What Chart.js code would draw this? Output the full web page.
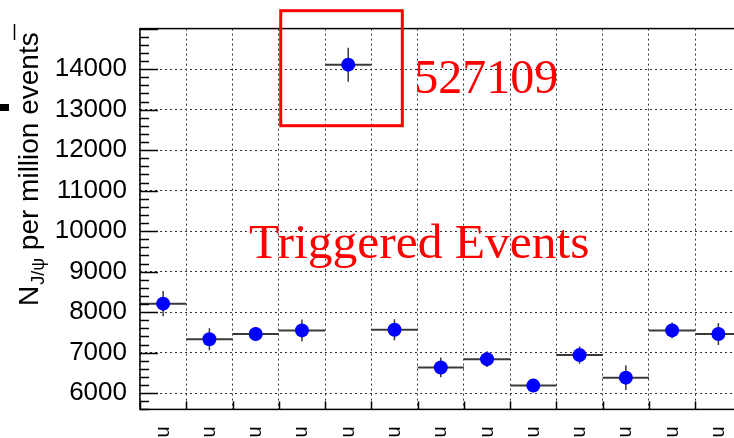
<!DOCTYPE html>
<html>
<head>
<meta charset="utf-8">
<script src="https://cdn.jsdelivr.net/npm/chart.js@4.4.1/dist/chart.umd.min.js"></script>
<style>
  html, body { margin: 0; padding: 0; background: #fff; overflow: hidden; }
  canvas { display: block; }
</style>
</head>
<body>
<canvas id="yieldChart" width="760" height="438" style="width:760px;height:438px"></canvas>
<script>
// J/psi yield per million triggered events, one bin per run
const runs = ['u', 'u', 'u', 'u', 'u', 'u', 'u', 'u', 'u', 'u', 'u', 'u', 'u'];
const yields = [8210, 7330, 7460, 7550, 14110, 7565, 6636, 6840, 6188, 6940, 6384, 7550, 7460];
const yieldErr = [310, 273, 175, 270, 420, 260, 245, 195, 165, 215, 305, 195, 270];
const yTicks = [6000, 7000, 8000, 9000, 10000, 11000, 12000, 13000, 14000];
const highlightBin = 4;
const highlightRun = '527109';

const sans = '"Liberation Sans", Arial, sans-serif';
const serif = '"Liberation Serif", "Times New Roman", serif';

// error bars, frame, ticks and labels drawn the ROOT way
const rootStyle = {
    id: 'rootStyle',
    beforeDatasetsDraw(chart) {
        const { ctx, scales: { x, y } } = chart;
        const half = (x.getPixelForValue(1) - x.getPixelForValue(0)) / 2;
        ctx.save();
        ctx.strokeStyle = '#3a3a3a';
        yields.forEach((v, i) => {
            const xc = x.getPixelForValue(i);
            const yc = y.getPixelForValue(v);
            ctx.lineWidth = 2;
            ctx.beginPath();
            ctx.moveTo(xc - half, yc);
            ctx.lineTo(xc + half, yc);
            ctx.stroke();
            ctx.lineWidth = 1.5;
            ctx.beginPath();
            ctx.moveTo(xc, y.getPixelForValue(v - yieldErr[i]));
            ctx.lineTo(xc, y.getPixelForValue(v + yieldErr[i]));
            ctx.stroke();
        });
        ctx.restore();
    },
    afterDraw(chart) {
        const { ctx, chartArea: a, scales: { x, y } } = chart;
        ctx.save();
        // frame
        ctx.strokeStyle = '#000';
        ctx.lineWidth = 1.5;
        ctx.strokeRect(a.left, a.top, a.right - a.left, a.bottom - a.top);
        // y ticks, minor every 200
        for (let v = 5600; v <= 15000; v += 200) {
            const py = Math.round(y.getPixelForValue(v)) + 0.5;
            const len = v % 1000 === 0 ? 18 : 9;
            ctx.beginPath();
            ctx.moveTo(a.left, py);
            ctx.lineTo(a.left + len, py);
            ctx.stroke();
        }
        // x ticks at bin edges
        const half = (x.getPixelForValue(1) - x.getPixelForValue(0)) / 2;
        for (let i = 0; i <= runs.length; i++) {
            const px = Math.round(x.getPixelForValue(i) - half) + 0.5;
            ctx.beginPath();
            ctx.moveTo(px, a.bottom);
            ctx.lineTo(px, a.bottom - 8);
            ctx.stroke();
        }
        // y title: N_{J/psi} per million events
        ctx.fillStyle = '#000';
        ctx.translate(38, 306);
        ctx.rotate(-Math.PI / 2);
        ctx.textBaseline = 'alphabetic';
        ctx.textAlign = 'left';
        ctx.font = '28px ' + sans;
        ctx.fillText('N', 0, 0);
        let off = ctx.measureText('N').width;
        ctx.font = '18px ' + sans;
        ctx.fillText('J/\u03C8', off + 1, 6);
        off += ctx.measureText('J/\u03C8').width + 1;
        ctx.font = '28px ' + sans;
        ctx.fillText(' per million events', off, 0);
        ctx.restore();

        ctx.save();
        // small marks at the left margin
        ctx.fillStyle = '#000';
        ctx.fillRect(0, 104, 9, 7);
        ctx.strokeStyle = '#000';
        ctx.lineWidth = 1.5;
        ctx.beginPath();
        ctx.moveTo(14.5, 24);
        ctx.lineTo(14.5, 40);
        ctx.stroke();
        // highlight box around the outlier run
        const xc = x.getPixelForValue(highlightBin);
        ctx.strokeStyle = '#ff0000';
        ctx.lineWidth = 3;
        ctx.strokeRect(xc - 67.5, 10.7, 121.6, 115);
        ctx.fillStyle = '#ff0000';
        ctx.font = '48px ' + serif;
        ctx.textBaseline = 'alphabetic';
        ctx.fillText(highlightRun, xc + 66, 93);
        ctx.font = '49.5px ' + serif;
        ctx.fillText('Triggered Events', 249, 258);
        ctx.restore();
    }
};

new Chart(document.getElementById('yieldChart'), {
    type: 'line',
    data: {
        labels: runs,
        datasets: [{
            data: yields,
            showLine: false,
            pointRadius: 7,
            pointHoverRadius: 7,
            pointBackgroundColor: '#0000ff',
            pointBorderWidth: 0
        }]
    },
    options: {
        responsive: false,
        devicePixelRatio: 1,
        animation: false,
        events: [],
        layout: { padding: { top: 26, right: 15.5, left: 0, bottom: 0 } },
        plugins: { legend: { display: false }, tooltip: { enabled: false } },
        scales: {
            x: {
                type: 'category',
                offset: true,
                afterFit(s) { s.height = 28; },
                grid: { offset: true, color: '#333', lineWidth: 1, drawTicks: false },
                border: { display: false, dash: [2, 3] },
                ticks: {
                    minRotation: 90,
                    maxRotation: 90,
                    padding: 17,
                    color: '#000',
                    font: { family: sans, size: 20 }
                }
            },
            y: {
                min: 5600,
                max: 15000,
                afterFit(s) { s.width = 140; },
                afterBuildTicks(s) { s.ticks = yTicks.map(v => ({ value: v })); },
                grid: { color: '#333', lineWidth: 1, drawTicks: false },
                border: { display: false, dash: [2, 3] },
                ticks: {
                    padding: 13,
                    color: '#000',
                    font: { family: sans, size: 26 },
                    callback: v => String(v)
                }
            }
        }
    },
    plugins: [rootStyle]
});
</script>
</body>
</html>
